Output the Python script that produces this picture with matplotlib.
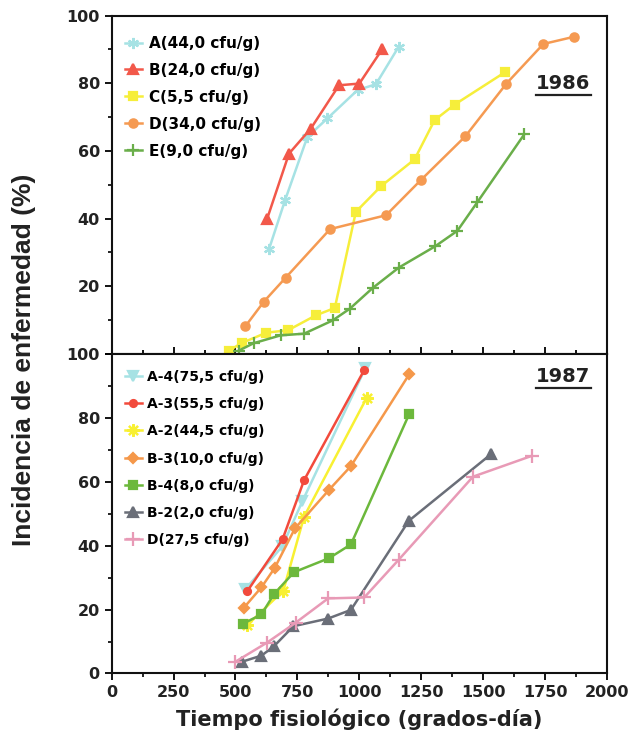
import numpy as np
import matplotlib
matplotlib.use('Agg')
import matplotlib.pyplot as plt
from matplotlib.ticker import MultipleLocator

# 1986 data (grados-dia, % incidencia)
a86_x = [635, 700, 790, 871, 993, 1067, 1159]
a86_y = [30.9, 45.4, 64.1, 69.6, 78.0, 79.7, 90.8]
b86_x = [628, 716, 804, 918, 1000, 1092]
b86_y = [40.0, 59.2, 66.6, 79.4, 79.9, 90.0]
c86_x = [473, 527, 625, 712, 824, 901, 986, 1088, 1223, 1304, 1385, 1587]
c86_y = [1.0, 3.3, 6.3, 7.0, 11.4, 13.6, 42.0, 49.6, 57.5, 69.1, 73.7, 83.2]
d86_x = [540, 615, 702, 882, 1108, 1250, 1428, 1594, 1743, 1865]
d86_y = [8.2, 15.5, 22.5, 36.9, 41.0, 51.5, 64.3, 79.9, 91.6, 93.7]
e86_x = [513, 574, 682, 777, 892, 962, 1054, 1159, 1306, 1396, 1477, 1666]
e86_y = [1.0, 3.2, 5.5, 6.0, 9.9, 13.4, 19.5, 25.5, 31.8, 36.4, 44.9, 64.9]

# 1987 data
a4_x = [540, 689, 770, 1024]
a4_y = [26.4, 39.8, 53.9, 95.5]
a3_x = [547, 690, 777, 1020]
a3_y = [25.7, 42.0, 60.5, 95.0]
a2_x = [547, 693, 777, 1030]
a2_y = [15.1, 25.9, 49.1, 86.3]
b3_x = [534, 605, 658, 740, 878, 966, 1202]
b3_y = [20.6, 27.0, 33.0, 45.4, 57.5, 64.9, 93.7]
b4_x = [531, 605, 655, 736, 878, 966, 1202]
b4_y = [15.6, 18.5, 24.8, 31.7, 36.1, 40.4, 81.3]
b2_x = [527, 605, 655, 734, 874, 966, 1200, 1531]
b2_y = [3.7, 5.6, 8.5, 14.8, 17.2, 19.9, 47.8, 68.6]
d87_x = [500, 628, 743, 874, 1020, 1159, 1459, 1696]
d87_y = [3.7, 9.7, 15.9, 23.5, 23.8, 35.6, 61.6, 68.1]

series86 = [
    (a86_x, a86_y, 'A(44,0 cfu/g)', '#a6e2e4', (6, 2, 0), 8),
    (b86_x, b86_y, 'B(24,0 cfu/g)', '#f2584a', '^', 7),
    (c86_x, c86_y, 'C(5,5 cfu/g)', '#f6ee3a', 's', 6),
    (d86_x, d86_y, 'D(34,0 cfu/g)', '#f59a52', 'o', 6),
    (e86_x, e86_y, 'E(9,0 cfu/g)', '#6aae4a', '+', 9),
]
series87 = [
    (a4_x, a4_y, 'A-4(75,5 cfu/g)', '#a6e2e4', 'v', 7),
    (a3_x, a3_y, 'A-3(55,5 cfu/g)', '#f24a3c', 'o', 5),
    (a2_x, a2_y, 'A-2(44,5 cfu/g)', '#f8f032', (8, 2, 0), 9),
    (b3_x, b3_y, 'B-3(10,0 cfu/g)', '#f5984a', 'D', 5),
    (b4_x, b4_y, 'B-4(8,0 cfu/g)', '#6cb83c', 's', 5.5),
    (b2_x, b2_y, 'B-2(2,0 cfu/g)', '#6a6e78', '^', 6.5),
    (d87_x, d87_y, 'D(27,5 cfu/g)', '#e89ab6', '+', 10),
]

fig = plt.figure(figsize=(6.44, 7.41), dpi=100)
L, W = 0.1734, 0.7691
ax1 = fig.add_axes([L, 0.5223, W, 0.4567])
ax2 = fig.add_axes([L, 0.0911, W, 0.4312])

for x, y, lab, col, mk, ms in series86:
    ax1.plot(x, y, color=col, marker=mk, ms=ms, lw=1.8, mew=1.6, label=lab)
for x, y, lab, col, mk, ms in series87:
    ax2.plot(x, y, color=col, marker=mk, ms=ms, lw=1.8, mew=1.6, label=lab)

for ax in (ax1, ax2):
    ax.set_xlim(0, 2000)
    ax.set_ylim(0, 100)
    ax.xaxis.set_major_locator(MultipleLocator(250))
    ax.xaxis.set_minor_locator(MultipleLocator(125))
    ax.yaxis.set_major_locator(MultipleLocator(20))
    ax.yaxis.set_minor_locator(MultipleLocator(10))
    for s in ax.spines.values():
        s.set_linewidth(1.5)
        s.set_color('#111111')
    ax.tick_params(axis='y', which='major', direction='out', length=5, width=1.3,
                   labelsize=11.5, labelcolor='#222222')
    ax.tick_params(axis='y', which='minor', direction='out', length=3, width=1.2)
    for t in ax.get_yticklabels():
        t.set_fontweight('bold')

ax1.tick_params(axis='x', which='both', direction='in', labelbottom=False, width=1.3)
ax1.tick_params(axis='x', which='major', length=5)
ax1.tick_params(axis='x', which='minor', length=3)
ax1.set_yticks([0, 20, 40, 60, 80, 100])
ax1.set_yticklabels(['', '20', '40', '60', '80', '100'], fontweight='bold')

ax2.tick_params(axis='x', which='major', direction='out', length=5, width=1.3,
                labelsize=11.5, labelcolor='#222222')
ax2.tick_params(axis='x', which='minor', direction='out', length=3, width=1.2)
for t in ax2.get_xticklabels():
    t.set_fontweight('bold')
for t in ax2.get_yticklabels():
    t.set_fontweight('bold')

ax1.legend(loc='upper left', bbox_to_anchor=(0.027, 0.94), frameon=False,
           borderpad=0, borderaxespad=0, handlelength=1.1, handletextpad=0.5,
           labelspacing=0.78, prop={'size': 11, 'weight': 'bold'})
ax2.legend(loc='upper left', bbox_to_anchor=(0.027, 0.95), frameon=False,
           borderpad=0, borderaxespad=0, handlelength=1.2, handletextpad=0.4,
           labelspacing=0.95, prop={'size': 10, 'weight': 'bold'})

# year labels, underlined
for ax, yr, yy in ((ax1, '1986', 0.80), (ax2, '1987', 0.93)):
    ax.text(0.912, yy, yr, transform=ax.transAxes, ha='center', va='center',
            fontsize=14, fontweight='bold', color='#222222')
    ax.plot([0.857, 0.967], [yy - 0.035, yy - 0.035], transform=ax.transAxes,
            color='#222222', lw=1.6, clip_on=False)

ax2.set_xlabel('Tiempo fisiológico (grados-día)', fontsize=15, fontweight='bold',
               color='#222222', labelpad=6)
fig.text(0.038, 0.515, 'Incidencia de enfermedad (%)', rotation=90, ha='center',
         va='center', fontsize=19, fontweight='bold', color='#222222',
         family=['Liberation Sans', 'DejaVu Sans'])

fig.savefig('out.png', dpi=100)
